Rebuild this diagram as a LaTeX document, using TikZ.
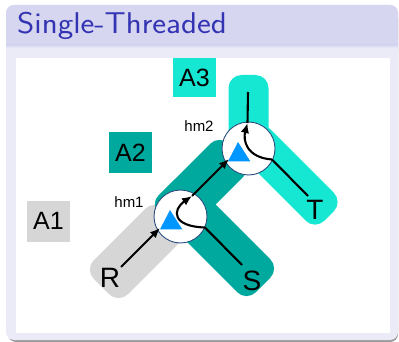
\documentclass[tikz,border=0pt]{standalone}
\usepackage{fontspec}
\newfontfamily\labelfont{Liberation Sans}
\usetikzlibrary{arrows.meta}
\definecolor{blockhead}{HTML}{D6D6F0}
\definecolor{blockbody}{HTML}{EBEBF7}
\definecolor{structure}{HTML}{3333B3}
\definecolor{bandgrey}{HTML}{D6D6D6}
\definecolor{bandteal}{HTML}{00A99D}
\definecolor{bandaqua}{HTML}{16E7D3}
\definecolor{triblue}{HTML}{0096FF}
\definecolor{ringblue}{HTML}{2A4D80}

\begin{document}
\begin{tikzpicture}[x=1pt,y=-1pt,
  band/.style={rounded corners=13pt},
  hmap/.style={circle, draw=ringblue, line width=0.9pt, fill=white,
    minimum size=53pt, inner sep=0pt},
  flow/.style={line width=2.1pt, draw=black},
  tip/.style={-{Latex[length=10pt,width=8.5pt]}},
  abox/.style={minimum width=43pt, minimum height=41pt, inner sep=0pt,
    font=\labelfont\fontsize{25}{25}\selectfont},
  endlbl/.style={inner sep=0pt, font=\labelfont\fontsize{28}{28}\selectfont},
  hmlbl/.style={inner sep=0pt, font=\labelfont\fontsize{15}{15}\selectfont},
]
\useasboundingbox (0,0) rectangle (399,342);
\fill[white] (0,0) rectangle (399,342);

% block frame with title bar
\fill[black!40, rounded corners=8pt] (8,9) rectangle (398,342);
\fill[blockbody, rounded corners=8pt] (6,5) rectangle (398,340);
\fill[blockhead, rounded corners=8pt] (6,5) rectangle (398,60);
\fill[blockbody] (6,48) rectangle (398,60);
\shade[top color=blockhead, bottom color=blockbody] (6,45) rectangle (398,48);
\fill[white] (16,58) rectangle (390,333);
\node[anchor=base west, inner sep=0pt, text=structure,
  font=\sffamily\fontsize{30}{36}\selectfont] (title) at (17,33.3)
  {\scalebox{1.1}[1]{Single-Threaded}};

% A1 band
\fill[bandgrey, band] (84.5,269.5) -- (118.5,303.5) -- (188.5,233.5) -- (154.5,199.5) -- cycle;
% A2 band: arm towards S and arm towards hm2
\fill[bandteal, band] (149.5,204.5) -- (182.5,171.5) -- (279.5,268.5) -- (246.5,301.5) -- cycle;
\fill[bandteal, band] (149.5,204.5) -- (219.5,134.5) -- (252.5,167.5) -- (182.5,237.5) -- cycle;
% A3 band: vertical arm and arm towards T
\fill[bandaqua, band] (228.5,75) rectangle (268.5,150);
\fill[bandaqua, band] (232.5,147.5) -- (260.5,119.5) -- (343,202) -- (315,230) -- cycle;

% hash map nodes
\node[hmap] (c1) at (180.5,216.5) {};
\node[hmap] (c2) at (248.5,148.5) {};
\foreach \c in {c1,c2}
  \fill[triblue] ([shift={(-10.5,-6.5)}]\c.center) -- ([shift={(-20.5,12.8)}]\c.center)
    -- ([shift={(1.8,12.8)}]\c.center) -- cycle;

% flow paths
\coordinate (rS) at (121,267);
\coordinate (in1) at (160,228);
\coordinate (out1) at (192,196);
\coordinate (in2) at (229,159);
\coordinate (sJ) at (205,227.5);
\coordinate (sE) at (242,265);
\coordinate (tJ) at (272,159.5);
\coordinate (tE) at (308,196);
\coordinate (out2) at (247.5,123);
\coordinate (top) at (248,92);

\draw[flow,tip] (rS) -- (in1);
\draw[flow] (sJ) -- (sE);
\draw[flow,tip] (sJ) .. controls +(-33,-1) and +(-20,14) .. (out1);
\draw[flow,tip] (out1) -- (in2);
\draw[flow] (tJ) -- (tE);
\draw[flow,tip] (tJ) .. controls +(-26,-2) and +(-4.5,17) .. (out2);
\draw[flow] (out2) -- (top);

% labels
\node[hmlbl] (l1) at (129,202) {hm1};
\node[hmlbl] (l2) at (199,126) {hm2};
\node[endlbl] (R) at (110,278) {R};
\node[endlbl] (S) at (252,281) {S};
\node[endlbl] (T) at (315,210) {T};
\node[abox, fill=bandgrey] (a1) at (48.5,221) {A1};
\node[abox, fill=bandteal] (a2) at (130.5,152.5) {A2};
\node[abox, fill=bandaqua, minimum height=39pt] (a3) at (194.5,77.5) {A3};
\end{tikzpicture}
\end{document}
